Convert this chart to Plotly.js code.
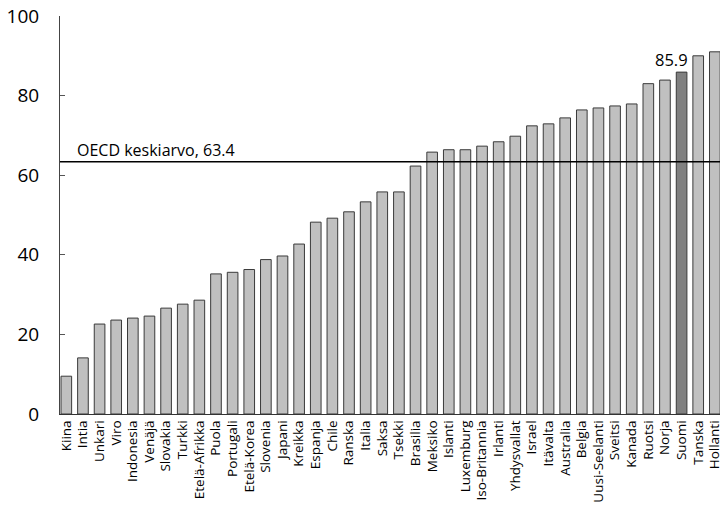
<!DOCTYPE html>
<html>
<head>
<meta charset="utf-8">
<script src="https://cdn.plot.ly/plotly-3.0.1.min.js"></script>
<style>html,body{margin:0;padding:0;background:#fff;}#chart{width:720px;height:510px;}</style>
</head>
<body>
<div id="chart"></div>
<script>
const countries = ["Kiina","Intia","Unkari","Viro","Indonesia","Venäjä","Slovakia","Turkki","Etelä-Afrikka","Puola","Portugali","Etelä-Korea","Slovenia","Japani","Kreikka","Espanja","Chile","Ranska","Italia","Saksa","Tsekki","Brasilia","Meksiko","Islanti","Luxemburg","Iso-Britannia","Irlanti","Yhdysvallat","Israel","Itävalta","Australia","Belgia","Uusi-Seelanti","Sveitsi","Kanada","Ruotsi","Norja","Suomi","Tanska","Hollanti"];
const values = [9.5,14.1,22.6,23.6,24.1,24.6,26.6,27.6,28.6,35.2,35.6,36.3,38.8,39.7,42.7,48.2,49.2,50.8,53.3,55.8,55.8,62.3,65.8,66.4,66.4,67.3,68.4,69.8,72.4,72.9,74.4,76.4,76.9,77.4,77.9,83.0,83.9,85.9,90.0,91.0];
const highlight = "Suomi";
const oecdAverage = 63.4;
const oecdLabel = "OECD keskiarvo, 63.4";
const yTicks = [0,20,40,60,80,100];

const font = "Open Sans, Noto Sans, sans-serif";
const colors = countries.map(c => c === highlight ? "#808080" : "#c0c0c0");
const hiIdx = countries.indexOf(highlight);

const trace = {
  type: "bar",
  x: countries,
  y: values,
  marker: {color: colors, line: {color: "#3a3a3a", width: 1}},
  width: 0.64,
  hoverinfo: "x+y"
};

const layout = {
  width: 720, height: 510,
  margin: {l: 60, r: 0, t: 16, b: 96, pad: 0},
  paper_bgcolor: "#fff", plot_bgcolor: "#fff",
  showlegend: false,
  font: {family: font, color: "#000"},
  xaxis: {
    type: "category",
    range: [-0.38, 39.31],
    tickangle: -90,
    ticks: "",
    tickfont: {size: 13.5, family: font, color: "#000"},
    showgrid: false, zeroline: false,
    showline: true, linecolor: "#333", linewidth: 1,
    fixedrange: true
  },
  yaxis: {
    range: [0, 100],
    tickvals: yTicks,
    ticks: "inside", ticklen: 5, tickcolor: "#555", tickwidth: 1,
    tickfont: {size: 19, family: font, color: "#000"},
    ticklabelstandoff: 16,
    showgrid: false, zeroline: false,
    showline: true, linecolor: "#444", linewidth: 1,
    fixedrange: true
  },
  shapes: [{
    type: "line", xref: "paper", yref: "y",
    x0: 0, x1: 1, y0: oecdAverage, y1: oecdAverage,
    line: {color: "#000", width: 1.5}
  }],
  annotations: [
    {
      xref: "paper", yref: "y", x: 0.022, y: oecdAverage,
      xanchor: "left", yanchor: "bottom", yshift: -1,
      text: oecdLabel, showarrow: false,
      font: {size: 16, family: font, color: "#000"}
    },
    {
      xref: "x", yref: "y", x: hiIdx, y: values[hiIdx],
      xanchor: "right", yanchor: "bottom", xshift: 8, yshift: -1,
      text: String(values[hiIdx]), showarrow: false,
      font: {size: 16.5, family: font, color: "#000"}
    }
  ]
};

Plotly.newPlot("chart", [trace], layout, {displayModeBar: false, staticPlot: true});
</script>
</body>
</html>
